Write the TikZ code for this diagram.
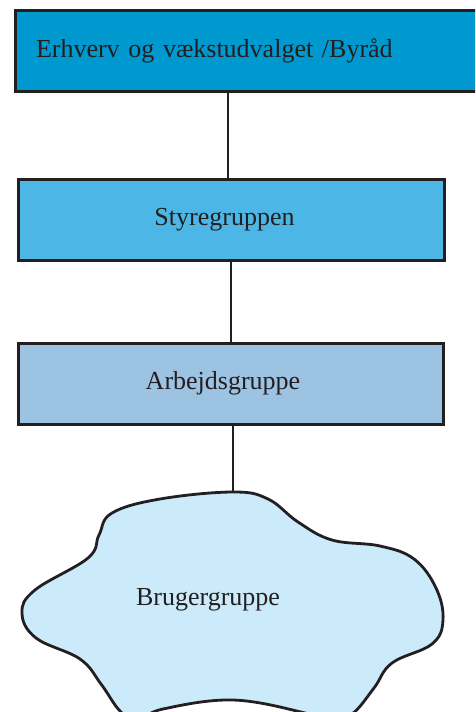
\documentclass[tikz,border=0pt]{standalone}
\usepackage{fontspec}
\setmainfont{Liberation Serif}
\definecolor{edge}{HTML}{231F20}
\definecolor{topblue}{HTML}{0099CF}
\definecolor{midblue}{HTML}{4CB7E7}
\definecolor{lowblue}{HTML}{9DC3E3}
\definecolor{cloudblue}{HTML}{CCEBFA}
\tikzset{
  box/.style={draw=edge, line width=3pt, rectangle, minimum height=81pt,
    font=\fontsize{26}{30}\selectfont, text=edge},
  link/.style={draw=edge, line width=2.5pt},
}
\begin{document}
\begin{tikzpicture}[x=1pt,y=-1pt]
\useasboundingbox (0,0) rectangle (475,712);
\clip (0,0) rectangle (475,712);
\node[box, fill=topblue, text width=423pt, inner xsep=21pt, inner ysep=0pt, align=left] (top) at (247.5,50.5) {Erhverv og vækstudvalget /Byråd};
\node[box, fill=midblue, minimum width=426pt] (sty) at (231,219.5) {Styregruppen\hspace*{13pt}};
\node[box, fill=lowblue, minimum width=425pt] (arb) at (230.5,383.5) {Arbejdsgruppe\hspace*{15pt}};
\draw[draw=edge, line width=2.8pt, fill=cloudblue]
  plot[smooth cycle, tension=0.65] coordinates {
    (233,492) (268,499) (298,522) (332,540) (380,546) (414,559) (436,588)
    (443,620) (432,644) (392,663) (374,688) (352,714) (328,722) (305,713)
    (233,700) (163,709) (137,720) (120,711) (101,684) (80,659) (36,638)
    (22,613) (35,590) (88,558) (99,535) (112,513) (160,499)
  };
\coordinate (cloudtop) at (233,492);
\node[font=\fontsize{26}{30}\selectfont, text=edge] (brug) at (208,600) {Brugergruppe};
\draw[link] ([xshift=-3pt]sty.north) -- ([xshift=-3pt]sty.north |- top.south);
\draw[link] (sty.south) -- (arb.north -| sty.south);
\draw[link] (arb.south -| cloudtop) -- (cloudtop);
\end{tikzpicture}
\end{document}
